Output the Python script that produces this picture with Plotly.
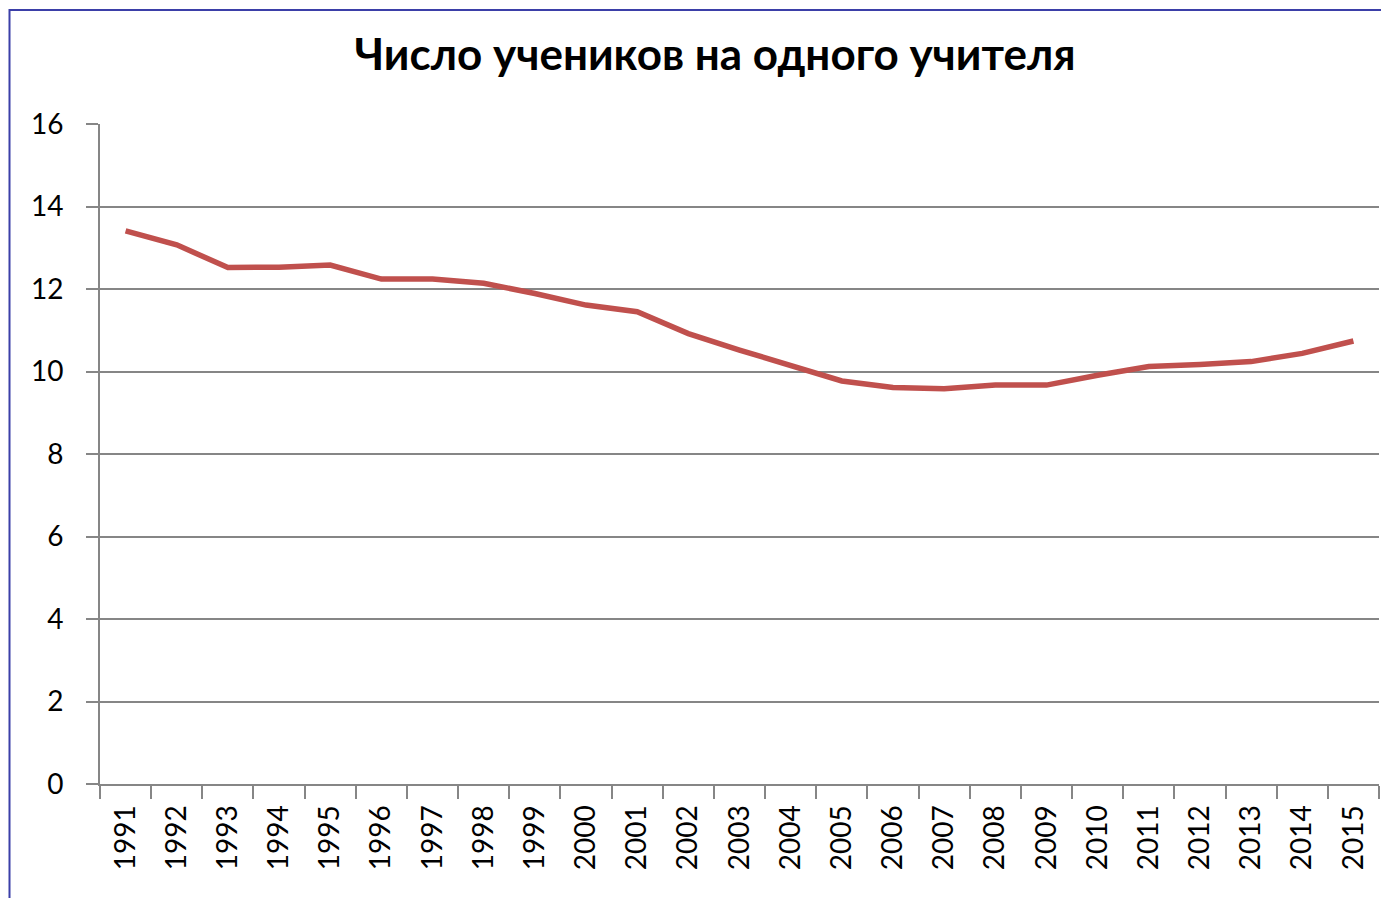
import plotly.graph_objects as go

years = [str(y) for y in range(1991, 2016)]
students_per_teacher = [13.41, 13.07, 12.52, 12.53, 12.58, 12.24, 12.24, 12.14, 11.89, 11.61,
                        11.45, 10.92, 10.52, 10.16, 9.77, 9.61, 9.58, 9.67, 9.67, 9.91,
                        10.12, 10.17, 10.24, 10.44, 10.74]
y_ticks = [0, 2, 4, 6, 8, 10, 12, 14, 16]
title_text = "Число учеников на одного учителя"

OFF = 8  # browser body margin
W, H = 1389 - OFF, 898 - OFF
L, R, T, B = 100 - OFF, 10, 124 - OFF, 114
pw = W - L - R
ph = H - T - B

fig = go.Figure()
fig.add_trace(go.Scatter(
    x=years, y=students_per_teacher, mode="lines",
    line=dict(color="#C0504D", width=5.5), showlegend=False,
))

fig.update_layout(
    width=W, height=H,
    margin=dict(l=L, r=R, t=T, b=B),
    paper_bgcolor="white", plot_bgcolor="white",
    title=dict(text="<b>" + title_text + "</b>", x=(715 - OFF) / W, xanchor="center",
               y=1 - (55 - OFF) / H, yanchor="middle",
               font=dict(family="Lato, Open Sans, sans-serif", size=44, color="black")),
    font=dict(family="Lato, Open Sans, sans-serif", color="black"),
)

fig.update_xaxes(
    type="category", tickson="boundaries", ticks="outside", ticklen=13,
    tickcolor="#868686", tickwidth=2, showline=True, linecolor="#868686", linewidth=2,
    showgrid=False, tickangle=-90, tickfont=dict(size=28, color="black"),
    range=[-0.5, len(years) - 0.5], ticklabelstandoff=8,
)
fig.update_yaxes(
    range=[0, 16], tickvals=y_ticks, ticks="outside", ticklen=12,
    tickcolor="#868686", tickwidth=2, showline=True, linecolor="#868686", linewidth=2,
    showgrid=True, gridcolor="#868686", gridwidth=1.5, zeroline=False,
    tickfont=dict(size=28, color="black"), ticklabelstandoff=17,
)

# chart frame (figure-pixel coordinates converted to paper fractions)
fx0, fy0 = 1.5, 2  # left / top edge in figure pixels
fig.add_shape(type="rect", xref="paper", yref="paper",
              x0=(fx0 - L) / pw, x1=(W + 10 - L) / pw,
              y0=(-(B + 10)) / ph, y1=(H - B - fy0) / ph,
              line=dict(color="#3B3FA8", width=2), fillcolor="rgba(0,0,0,0)", layer="below")

fig.write_html("out.html")
